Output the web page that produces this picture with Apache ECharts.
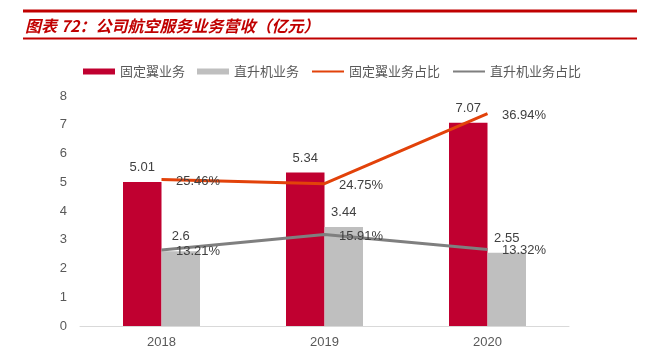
<!DOCTYPE html>
<html><head><meta charset="utf-8">
<script src="https://cdn.jsdelivr.net/npm/echarts@6/dist/echarts.min.js"></script>
<style>html,body{margin:0;padding:0;background:#fff}#c{width:648px;height:359px}</style>
</head><body><div id="c"></div>
<script>
const titleText = '图表 72：公司航空服务业务营收（亿元）';
const categories = ['2018', '2019', '2020'];
const fixedWing = [5.01, 5.34, 7.07];
const helicopter = [2.6, 3.44, 2.55];
const fixedWingShare = [25.46, 24.75, 36.94];
const helicopterShare = [13.21, 15.91, 13.32];
const seriesNames = ['固定翼业务', '直升机业务', '固定翼业务占比', '直升机业务占比'];

const chart = echarts.init(document.getElementById('c'), null, {renderer: 'canvas'});
const numFont = '"Liberation Sans", Arial, sans-serif';
const cjkFont = '"Noto Sans CJK SC", sans-serif';
const pctLabel = {show: true, position: 'right', distance: 14, offset: [0, 1.5], fontSize: 13, color: '#404040', fontFamily: numFont,
                  formatter: p => p.value.toFixed(2) + '%'};
chart.setOption({
  animation: false,
  backgroundColor: '#fff',
  title: {
    text: titleText, left: 20, top: 13,
    textStyle: {fontSize: 16, fontStyle: 'italic', fontWeight: 'bold', color: '#C00000', fontFamily: cjkFont}
  },
  graphic: [
    {type: 'rect', shape: {x: 23, y: 9.5, width: 614, height: 3}, style: {fill: '#C00000'}},
    {type: 'rect', shape: {x: 23, y: 37.5, width: 614, height: 2}, style: {fill: '#C00000'}}
  ],
  legend: {
    data: [
      {name: seriesNames[0], icon: 'rect'},
      {name: seriesNames[1], icon: 'rect'},
      {name: seriesNames[2]},
      {name: seriesNames[3]}
    ],
    left: 78, top: 60, itemWidth: 32, itemHeight: 6, itemGap: 12,
    textStyle: {fontSize: 13, color: '#595959', fontFamily: cjkFont}
  },
  grid: {left: 80, right: 79, top: 96, bottom: 33},
  xAxis: {
    type: 'category', data: categories,
    axisLine: {lineStyle: {color: '#D9D9D9', width: 1}},
    axisTick: {show: false},
    axisLabel: {fontSize: 13, color: '#595959', fontFamily: numFont, margin: 10}
  },
  yAxis: [
    {type: 'value', min: 0, max: 8, interval: 1,
     axisLine: {show: false}, axisTick: {show: false}, splitLine: {show: false},
     axisLabel: {fontSize: 13, color: '#595959', fontFamily: numFont, margin: 13}},
    {type: 'value', min: 0, max: 40, interval: 5, show: false, splitLine: {show: false}}
  ],
  series: [
    {name: seriesNames[0], type: 'bar', data: fixedWing, barWidth: 38.5, barGap: '0%',
     itemStyle: {color: '#C00030'},
     label: {show: true, position: 'top', distance: 8, fontSize: 13, color: '#404040', fontFamily: numFont}},
    {name: seriesNames[1], type: 'bar', data: helicopter, barWidth: 38.5,
     itemStyle: {color: '#BFBFBF'},
     label: {show: true, position: 'top', distance: 8, fontSize: 13, color: '#404040', fontFamily: numFont}},
    {name: seriesNames[2], type: 'line', yAxisIndex: 1, data: fixedWingShare, symbol: 'circle', symbolSize: 1, showSymbol: true,
     lineStyle: {color: '#E2420A', width: 3}, itemStyle: {color: 'rgba(0,0,0,0)'},
     label: pctLabel},
    {name: seriesNames[3], type: 'line', yAxisIndex: 1, data: helicopterShare, symbol: 'circle', symbolSize: 1, showSymbol: true,
     lineStyle: {color: '#7F7F7F', width: 3}, itemStyle: {color: 'rgba(0,0,0,0)'},
     label: pctLabel}
  ]
});
</script></body></html>
